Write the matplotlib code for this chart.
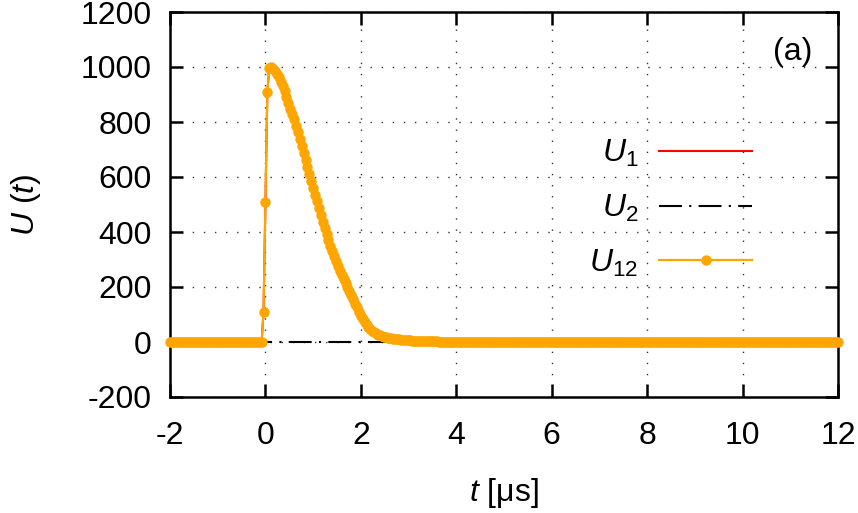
import numpy as np
import matplotlib
matplotlib.use('Agg')
import matplotlib.pyplot as plt

plt.rcParams['font.family'] = ['Liberation Sans', 'DejaVu Sans']
plt.rcParams['mathtext.fontset'] = 'custom'
plt.rcParams['mathtext.rm'] = 'Liberation Sans'
plt.rcParams['mathtext.it'] = 'Liberation Sans:italic'
plt.rcParams['axes.unicode_minus'] = False

# time axis [us], sampled every 0.04 us
t = np.round(np.arange(-2.0, 12.0 + 0.02, 0.04), 2)

# pulse values, from t = -0.08 to 3.88 (0 elsewhere)
t_pulse_start = -0.08
u_pulse = [0, 110, 510, 910, 995, 999, 994, 986, 975, 962,
           947, 930, 911, 891, 870, 849, 828, 810, 787, 763,
           739, 714, 689, 663, 638, 612, 587, 561, 536, 511,
           487, 462, 438, 415, 392, 371, 350, 330, 311, 294,
           277, 260, 244, 229, 214, 200, 185, 170, 155, 140,
           126, 110, 95, 82, 71, 61, 53, 46, 40, 35,
           31, 27, 24, 21, 19, 17, 16, 14, 13, 12,
           11, 11, 10, 9, 8, 8, 7, 6, 6, 5,
           5, 5, 4, 4, 4, 3, 3, 3, 2, 2,
           2, 2, 2, 1, 1, 1, 1, 1, 1, 0]

u1 = np.zeros_like(t)
i0 = int(np.argmin(np.abs(t - t_pulse_start)))
u1[i0:i0 + len(u_pulse)] = u_pulse
u2 = np.zeros_like(t)
u12 = u1.copy()

xticks = [-2, 0, 2, 4, 6, 8, 10, 12]
yticks = [-200, 0, 200, 400, 600, 800, 1000, 1200]

fig = plt.figure(figsize=(8.58, 5.13), dpi=100)
ax = fig.add_axes([170/858, 116/513, 668/858, 385/513])

ax.plot(t, u1, color='#ff0000', lw=1.5, label=r'$U_1$')
ax.plot(t, u2, color='black', lw=1.5, dashes=(11, 3.5, 1, 3.5), label=r'$U_2$')
ax.plot(t, u12, color='#ffa500', lw=1.6, marker='o', ms=7.5, mew=0,
        clip_on=False, label=r'$U_{12}$', zorder=3)

ax.set_xlim(-2, 12)
ax.set_ylim(-200, 1200)
ax.set_xticks(xticks)
ax.set_yticks(yticks)
ax.grid(True, color='#333333', lw=1.0, linestyle=(0, (1, 7)))
ax.set_axisbelow(True)

for s in ax.spines.values():
    s.set_linewidth(1.8)
ax.tick_params(direction='in', length=9.5, width=1.8, top=True, right=True,
               labelsize=23)
ax.tick_params(axis='x', pad=17)
ax.tick_params(axis='y', pad=13)

ax.set_xlabel(r'$t$ [μs]', fontsize=23)
ax.set_ylabel(r'$U$ ($t$)', fontsize=23)
ax.xaxis.set_label_coords(0.5, -0.205)
ax.yaxis.set_label_coords(-0.19, 0.5)

ax.text(0.961, 0.896, '(a)', transform=ax.transAxes, fontsize=23,
        ha='right', va='center')

# markerfirst=False puts the sample on the right and right-aligns the labels
leg = ax.legend(loc='center right', bbox_to_anchor=(0.871, 0.49),
                frameon=False, markerfirst=False, fontsize=23, numpoints=1,
                handlelength=2.9, handletextpad=0.65, labelspacing=0.74,
                borderpad=0, borderaxespad=0)

fig.savefig('out.png', dpi=100)
